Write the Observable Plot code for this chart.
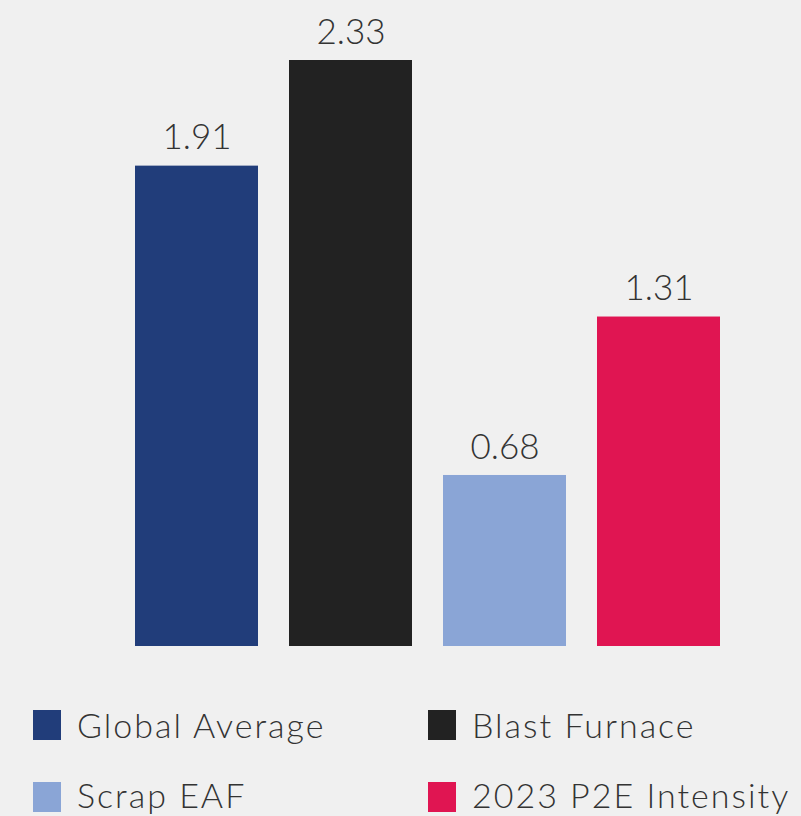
<!DOCTYPE html>
<html>
<head>
<meta charset="utf-8">
<script src="https://cdn.jsdelivr.net/npm/d3@7"></script>
<script src="https://cdn.jsdelivr.net/npm/@observablehq/plot@0.6"></script>
<style>
  html, body { margin: 0; padding: 0; background: #f0f0f0; }
  body { width: 801px; height: 816px; overflow: hidden; font-family: Lato, "Open Sans", sans-serif; }
  #chart svg { display: block; background: #f0f0f0; }
  .legend { position: relative; height: 156px; }
  .item { position: absolute; display: flex; align-items: center; height: 30px; }
  .sw { width: 28px; height: 30px; margin-right: 16px; }
  .lab { font-size: 34px; line-height: 30px; font-weight: 300; color: #333; letter-spacing: 2px; white-space: nowrap; }
</style>
</head>
<body>
<div id="chart"></div>
<div class="legend" id="legend"></div>
<script>
const categories = ["Global Average", "Blast Furnace", "Scrap EAF", "2023 P2E Intensity"];
const values = [1.91, 2.33, 0.68, 1.31];
const colors = ["#213d7a", "#222222", "#8aa5d6", "#e01552"];
const labels = ["1.91", "2.33", "0.68", "1.31"];

const data = categories.map((c, i) => ({category: c, value: values[i], label: labels[i]}));

const plot = Plot.plot({
  width: 801,
  height: 660,
  marginTop: 60,
  marginBottom: 14,
  marginLeft: 104,
  marginRight: 49,
  style: {background: "#f0f0f0"},
  x: {domain: categories, padding: 0.2, axis: null},
  y: {domain: [0, 2.33], axis: null},
  color: {domain: categories, range: colors},
  marks: [
    Plot.barY(data, {x: "category", y: "value", fill: "category"}),
    Plot.text(data, {x: "category", y: "value", text: "label", dy: -28, fontSize: 35, fontWeight: 300, fill: "#333", fontFamily: "Lato, 'Open Sans', sans-serif", style: "letter-spacing:1px"})
  ]
});
document.getElementById("chart").appendChild(plot);

const pos = [[33, 50], [428, 50], [33, 122], [428, 122]];
const leg = document.getElementById("legend");
categories.forEach((c, i) => {
  const it = document.createElement("div");
  it.className = "item";
  it.style.left = pos[i][0] + "px";
  it.style.top = pos[i][1] + "px";
  const sw = document.createElement("div");
  sw.className = "sw";
  sw.style.background = colors[i];
  const lab = document.createElement("span");
  lab.className = "lab";
  lab.textContent = c;
  if (i >= 2) lab.style.marginTop = "-4px";
  it.appendChild(sw);
  it.appendChild(lab);
  leg.appendChild(it);
});
</script>
</body>
</html>
